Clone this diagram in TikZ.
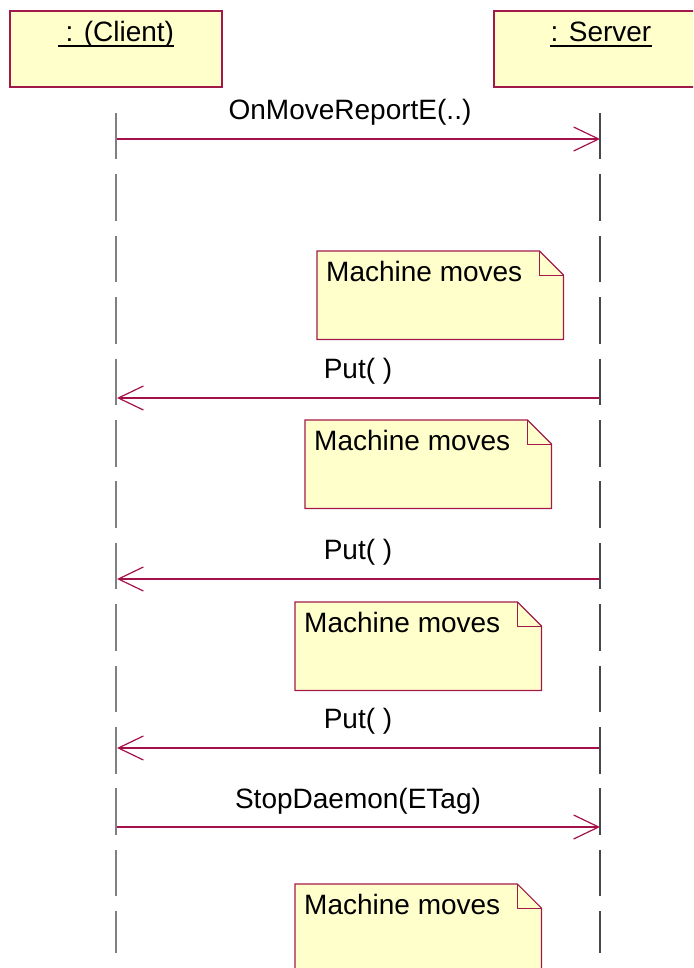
\documentclass[tikz,border=0pt]{standalone}
\usepackage{fontspec}
\setmainfont{Liberation Sans}
\usetikzlibrary{arrows.meta}
\definecolor{boxfill}{HTML}{FFFFCC}
\definecolor{boxline}{HTML}{A31A4A}
\definecolor{msgline}{HTML}{A3104A}
\definecolor{lifeA}{HTML}{808080}
\definecolor{lifeB}{HTML}{484848}
\tikzset{
  objbox/.style={draw=boxline, fill=boxfill, line width=1.2pt, minimum width=212pt, minimum height=76pt, inner sep=0pt},
  objlabel/.style={anchor=base, inner sep=0pt},
  uline/.style={line width=1.8pt, black},
  lifeline/.style={line width=1.5pt, dash pattern=on 46.5pt off 14.9pt},
  msg/.style={draw=msgline, line width=1.2pt, -{Straight Barb[length=25pt,width=24pt]}},
  msglabel/.style={anchor=base, inner sep=0pt},
  notearea/.style={anchor=north west, minimum width=246pt, minimum height=88pt, inner sep=0pt},
  noteline/.style={draw=boxline, fill=boxfill, line width=1.2pt, line join=miter},
  notetext/.style={anchor=base west, inner sep=0pt}
}
\newcommand\mynote[2]{%
  \node[notearea] (#1) at #2 {};
  \path[noteline] (#1.north west) -- ([xshift=-24pt]#1.north east) -- ([yshift=-24pt]#1.north east) -- (#1.south east) -- (#1.south west) -- cycle;
  \draw[boxline, line width=1.0pt] ([xshift=-24pt]#1.north east) |- ([yshift=-24pt]#1.north east);
  \node[notetext] (#1t) at ([xshift=9pt,yshift=-30pt]#1.north west) {Machine moves};
}
\begin{document}
\begin{tikzpicture}[x=1pt,y=-1pt,font=\fontsize{28}{33}\selectfont]
\useasboundingbox (0,0) rectangle (693,968);
\clip (0,0) rectangle (693,968);
% objects
\node[objbox] (client) at (116,49) {};
\node[objbox] (server) at (600,49) {};
\node[objlabel] (clientl) at (116,42) {\ : (Client)};
\node[objlabel] (serverl) at (601,42) {: Server};
\draw[uline] ([yshift=-4pt]clientl.base west) -- ([yshift=-4pt]clientl.base east);
\draw[uline] ([yshift=-4pt]serverl.base west) -- ([yshift=-4pt]serverl.base east);
% lifelines
\coordinate (ctop) at (116,113);
\coordinate (cbot) at (116,953);
\coordinate (stop) at (600,113);
\coordinate (sbot) at (600,953);
\draw[lifeline, lifeA] (ctop) -- (cbot);
\draw[lifeline, lifeB] (stop) -- (sbot);
% message end points
\coordinate (c1) at (117,139); \coordinate (s1) at (600,139);
\coordinate (c2) at (117,398); \coordinate (s2) at (599,398);
\coordinate (c3) at (117,579); \coordinate (s3) at (599,579);
\coordinate (c4) at (117,748); \coordinate (s4) at (599,748);
\coordinate (c5) at (117,827); \coordinate (s5) at (600,827);
\draw[msg] (c1) -- (s1);
\draw[msg] (s2) -- (c2);
\draw[msg] (s3) -- (c3);
\draw[msg] (s4) -- (c4);
\draw[msg] (c5) -- (s5);
\node[msglabel] (m1) at (350,120) {OnMoveReportE(..)};
\node[msglabel] (m2) at (358,378) {Put( )};
\node[msglabel] (m3) at (358,559) {Put( )};
\node[msglabel] (m4) at (358,728) {Put( )};
\node[msglabel] (m5) at (358,808) {StopDaemon(ETag)};
% notes
\mynote{n1}{(317,251)}
\mynote{n2}{(305,420)}
\mynote{n3}{(295,602)}
\mynote{n4}{(295,884)}
\end{tikzpicture}
\end{document}
